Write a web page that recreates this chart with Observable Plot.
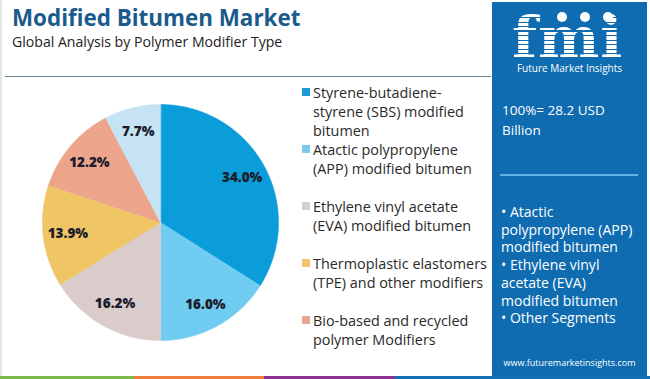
<!DOCTYPE html>
<html><head><meta charset="utf-8">
<script src="https://cdn.jsdelivr.net/npm/d3@7"></script>
<script src="https://cdn.jsdelivr.net/npm/@observablehq/plot@0.6"></script>
<style>
html,body{margin:0;padding:0;background:#fff;}
#root{position:relative;width:650px;height:379px;overflow:hidden;font-family:"Open Sans",sans-serif;background:#fff;}
.abs{position:absolute;white-space:nowrap;}
#title{left:12px;top:5px;line-height:26px;font-size:22.4px;font-weight:700;color:#1a5b8c;}
#subtitle{left:12px;top:33px;line-height:18px;font-size:14.1px;color:#222;}
#rule{left:5px;top:76px;width:486px;height:1px;background:#6a8593;}
#leftborder{left:0;top:0;width:2px;height:379px;background:#e6e6e6;}
#legend{left:302px;top:83px;}
.lg{position:relative;height:57px;}
.sw{position:absolute;left:0;top:5px;width:8px;height:8px;}
.lt{position:absolute;left:11px;top:0;font-size:14.4px;line-height:19px;color:#2a2a2a;white-space:nowrap;}
#panel{left:492px;top:2px;width:155px;height:377px;background:#0f6cb0;}
#logo{left:512px;top:16px;font-family:"DejaVu Serif",serif;font-weight:700;font-size:58px;line-height:44px;color:#fff;letter-spacing:1px;}
#stripes{left:505px;top:14px;width:130px;height:46px;background:repeating-linear-gradient(to bottom,transparent 0,transparent 3px,#0f6cb0 3px,#0f6cb0 4.5px);}
.dot{position:absolute;width:10px;height:10px;border-radius:50%;background:#fff;}
#fmiName{left:492px;width:155px;text-align:center;top:62px;line-height:12px;font-size:10px;color:#fff;}
#headline{left:502px;top:100px;font-size:13.5px;line-height:20px;color:#fff;}
#panelRule{left:500px;top:174px;width:138px;height:2px;background:#5fb0e3;}
#bullets{left:501px;top:203px;font-size:14px;line-height:17.7px;color:#fff;}
#site{left:492px;width:155px;text-align:center;top:356px;font-size:9px;line-height:14px;color:#fff;}
#strip{left:0;top:376px;width:650px;height:3px;display:flex;}
#pie{left:30px;top:92px;}
</style></head>
<body><div id="root"></div>
<script>
// ---- data ----
const categories = [
  "Styrene-butadiene-styrene (SBS) modified bitumen",
  "Atactic polypropylene (APP) modified bitumen",
  "Ethylene vinyl acetate (EVA) modified bitumen",
  "Thermoplastic elastomers (TPE) and other modifiers",
  "Bio-based and recycled polymer Modifiers",
  "Others"
];
const shares = [34.0, 16.0, 16.2, 13.9, 12.2, 7.7];
const legendLines = [
  ["Styrene-butadiene-", "styrene (SBS) modified", "bitumen"],
  ["Atactic polypropylene", "(APP) modified bitumen"],
  ["Ethylene vinyl acetate", "(EVA) modified bitumen"],
  ["Thermoplastic elastomers", "(TPE) and other modifiers"],
  ["Bio-based and recycled", "polymer Modifiers"]
];
const titleText = "Modified Bitumen Market";
const subtitleText = "Global Analysis by Polymer Modifier Type";
const headlineLines = ["100%= 28.2 USD", "Billion"];
const bulletLines = ["• Atactic", "polypropylene (APP)", "modified bitumen", "• Ethylene vinyl", "acetate (EVA)", "modified bitumen", "• Other Segments"];
const siteText = "www.futuremarketinsights.com";

// ---- styles ----
const sliceColors = ["#0a9dda", "#70ccf1", "#dacccb", "#f0c566", "#eca58b", "#c6e3f4"];
const legendColors = ["#1a9ad6", "#7acaee", "#d4d2d2", "#eec374", "#e8a693"];
const stripColors = [["#7cb94b",134],["#ee7c3a",130],["#8b3191",131],["#1470b4",255]];

const root = document.getElementById("root");
function add(id, html, cls="abs"){const d=document.createElement("div");d.id=id;d.className=cls;d.innerHTML=html;root.appendChild(d);return d;}

add("leftborder","");
add("title", titleText);
add("subtitle", subtitleText);
add("rule","");

const leg = add("legend","");
legendLines.forEach((lines,i)=>{
  const g=document.createElement("div");g.className="lg";
  const s=document.createElement("div");s.className="sw";s.style.background=legendColors[i];g.appendChild(s);
  const t=document.createElement("div");t.className="lt";t.innerHTML=lines.join("<br>");g.appendChild(t);
  leg.appendChild(g);
});

add("panel","");
add("logo","fmi");
add("stripes","");
[[557,12],[580,12],[603,12]].forEach(([x,y])=>{const d=document.createElement("div");d.className="dot";d.style.left=x+"px";d.style.top=y+"px";root.appendChild(d);});
add("fmiName","Future Market Insights");
add("headline", headlineLines.join("<br>"));
add("panelRule","");
add("bullets", bulletLines.join("<br>"));
add("site", siteText);
const strip = add("strip","");
stripColors.forEach(([c,w])=>{const s=document.createElement("div");s.style.background=c;s.style.width=w+"px";s.style.height="3px";strip.appendChild(s);});

// ---- pie ----
const arcs = d3.pie().sort(null).value(d=>d.share)(categories.map((c,i)=>({category:c, share:shares[i]})));
const pts = [];
for (const a of arcs) {
  pts.push({category:a.data.category, x:0, y:0});
  const n = Math.max(2, Math.ceil((a.endAngle-a.startAngle)/0.01));
  for (let k=0;k<=n;k++){
    const t = a.startAngle + (a.endAngle-a.startAngle)*k/n;
    pts.push({category:a.data.category, x:Math.sin(t), y:Math.cos(t)});
  }
}
const labels = arcs.map(a=>{
  const m=(a.startAngle+a.endAngle)/2;
  return {x:0.79*Math.sin(m), y:0.79*Math.cos(m), text:d3.format(".1f")(a.data.share)+"%"};
});
const ext = 130/118;
const chart = Plot.plot({
  width:260, height:260, margin:0,
  style:{fontFamily:"Open Sans, sans-serif", background:"transparent"},
  x:{domain:[-ext,ext], axis:null},
  y:{domain:[-ext,ext], axis:null},
  color:{domain:categories, range:sliceColors},
  marks:[
    Plot.line(pts,{x:"x",y:"y",z:"category",fill:"category",stroke:"category",strokeWidth:0.6,curve:"linear-closed"}),
    Plot.text(labels,{x:"x",y:"y",text:"text",fontSize:13.5,fontWeight:800,fill:"#1c1c2b"})
  ]
});
const holder = add("pie","");
holder.appendChild(chart);
</script>
</body></html>
